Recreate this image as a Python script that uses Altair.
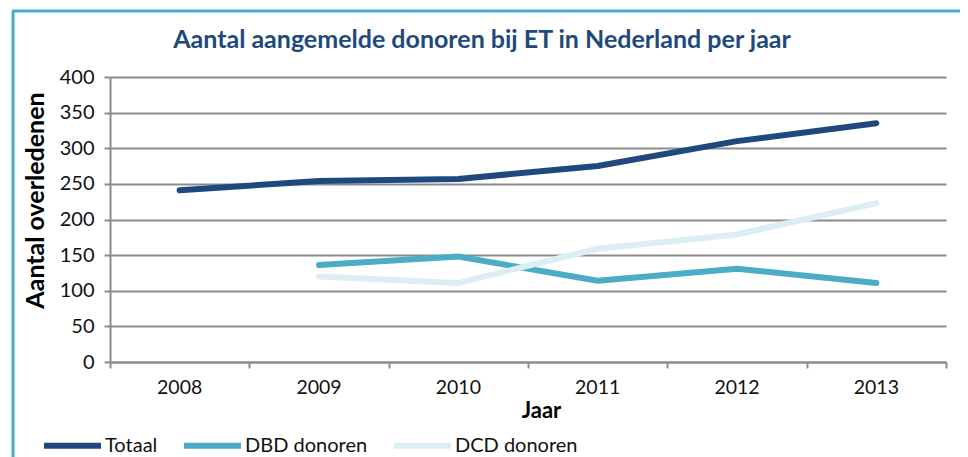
import altair as alt
import pandas as pd

years = [2008, 2009, 2010, 2011, 2012, 2013]
year_labels = ["2008", "2009", "2010", "2011", "2012", "2013"]
totaal = [241, 254, 257, 275, 310, 335]
dbd = [None, 136, 148, 114, 131, 111]
dcd = [None, 120, 111, 159, 179, 223]
series_names = ["Totaal", "DBD donoren", "DCD donoren"]
series_colors = ["#1F497D", "#4BACC6", "#DAEEF3"]
y_ticks = [0, 50, 100, 150, 200, 250, 300, 350, 400]

rows = []
for name, vals in zip(series_names, [totaal, dbd, dcd]):
    for yr, v in zip(years, vals):
        if v is not None:
            rows.append({"Jaar": yr, "Aantal": v, "Reeks": name})
df = pd.DataFrame(rows)
df_labels = pd.DataFrame({"Jaar": years, "label": year_labels})

# category boundaries for tick marks
x_bounds = [yr - 0.5 for yr in years] + [years[-1] + 0.5]

FONT = "Lato"
W, H = 836, 285

x_scale = alt.Scale(domain=[years[0] - 0.5, years[-1] + 0.5], nice=False, zero=False)

lines = alt.Chart(df).mark_line(strokeWidth=6, strokeCap="round", strokeJoin="round").encode(
    x=alt.X("Jaar:Q", scale=x_scale,
            axis=alt.Axis(values=x_bounds, grid=False, labels=False,
                          tickSize=6, tickColor="#8c8c8c", tickWidth=2,
                          domainColor="#8c8c8c", domainWidth=2,
                          title="Jaar", titleFont=FONT, titleFontSize=22, titleFontWeight="bold",
                          titleColor="#000000", titleX=431, titleY=48, titleBaseline="middle",
                          titleAlign="center")),
    y=alt.Y("Aantal:Q",
            scale=alt.Scale(domain=[0, 400], nice=False),
            axis=alt.Axis(values=y_ticks, grid=True, gridColor="#8c8c8c", gridWidth=2,
                          tickSize=6, tickColor="#8c8c8c", tickWidth=2,
                          domainColor="#8c8c8c", domainWidth=2,
                          labelFont=FONT, labelFontSize=20, labelColor="#111111", labelPadding=10,
                          title="Aantal overledenen", titleFont=FONT, titleFontSize=25,
                          titleFontWeight="bold", titleColor="#000000", titleAngle=270,
                          titleX=-75, titleY=123, titleAlign="center", titleBaseline="middle")),
    color=alt.Color("Reeks:N",
                    scale=alt.Scale(domain=series_names, range=series_colors),
                    legend=alt.Legend(title=None, orient="none", direction="horizontal",
                                      legendX=-69, legendY=337, symbolType="stroke",
                                      symbolSize=3249, symbolStrokeWidth=6, labelOffset=1,
                                      columnPadding=14, labelFont=FONT, labelFontSize=20,
                                      labelColor="#111111")),
)

x_labels = alt.Chart(df_labels).mark_text(font=FONT, fontSize=19.5, color="#111111",
                                          baseline="middle", align="center").encode(
    x=alt.X("Jaar:Q", scale=x_scale),
    y=alt.value(H + 26),
    text="label:N",
)

border_left = alt.Chart().mark_rule(color="#4BACC6", strokeWidth=3).encode(
    x=alt.value(-97), y=alt.value(-66), y2=alt.value(400))
border_top = alt.Chart().mark_rule(color="#4BACC6", strokeWidth=3).encode(
    x=alt.value(-98), x2=alt.value(900), y=alt.value(-66))

chart = alt.layer(border_left, border_top, lines, x_labels).properties(
    width=W, height=H,
    title=alt.Title("Aantal aangemelde donoren bij ET in Nederland per jaar",
                    font=FONT, fontSize=25, fontWeight="bold", color="#1F497D",
                    anchor="middle", frame="group", dx=-46, dy=43, offset=0),
    autosize=alt.AutoSizeParams(type="none"),
    padding={"left": 102, "top": 69, "right": 14, "bottom": 95},
).configure_view(stroke=None)

chart.save("out.html", embed_options={"renderer": "svg", "actions": False})
